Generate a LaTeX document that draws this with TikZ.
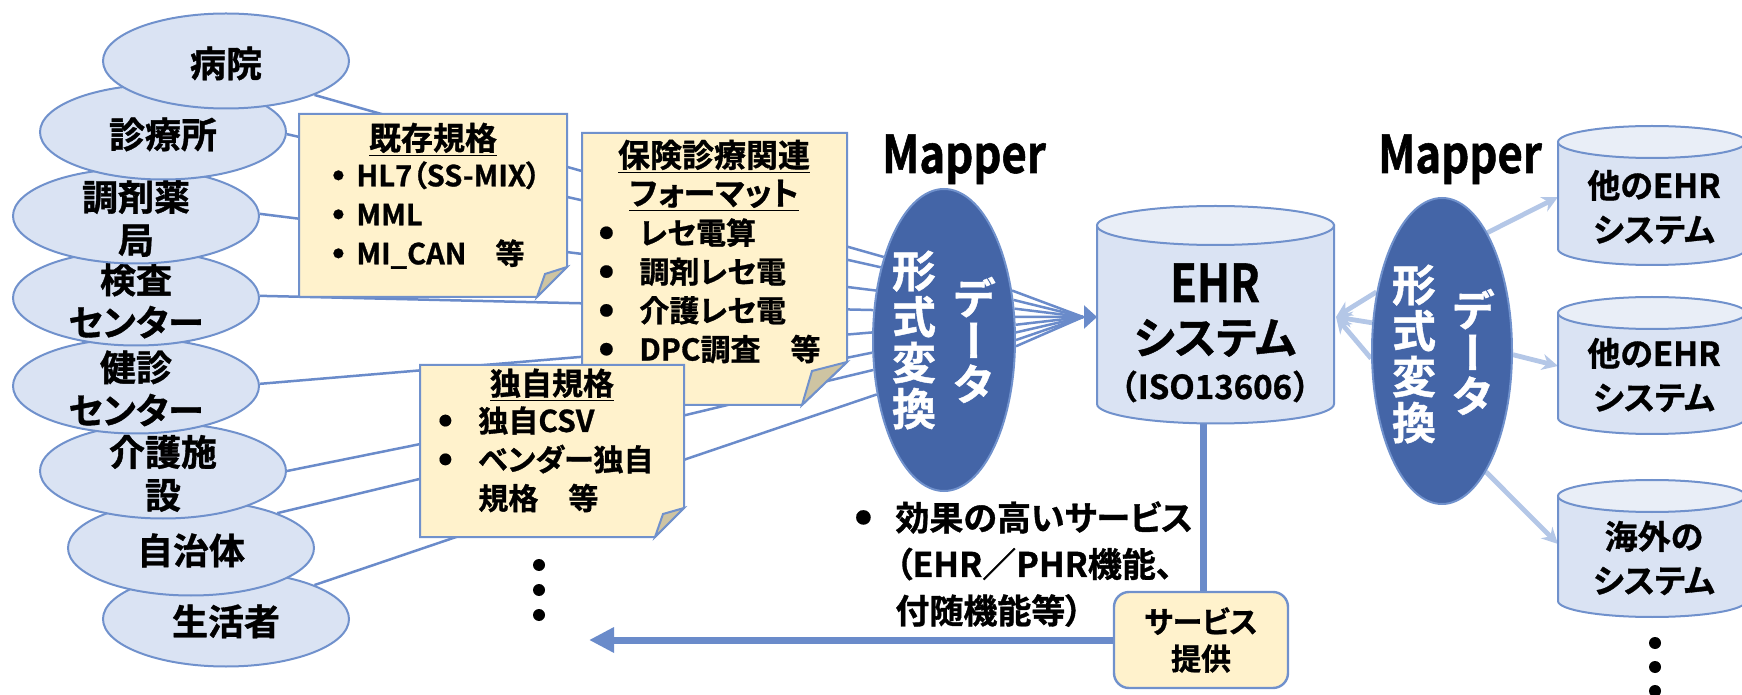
\documentclass[tikz,border=0pt]{standalone}
\usepackage{fontspec}
\usetikzlibrary{shapes.geometric,arrows.meta}
\setmainfont{Noto Sans CJK JP Bold}[RawFeature=+palt,FakeBold=1]
\newfontfamily\jp{Noto Sans CJK JP Bold}[RawFeature=+palt,FakeBold=1]
\newfontfamily\jpf{Noto Sans CJK JP Bold}[FakeBold=1]
\newfontfamily\jpv{Noto Sans CJK JP Bold}[RawFeature=+vert,FakeBold=1]
\newfontfamily\jpn{Noto Sans CJK JP Bold}[FakeStretch=0.84,FakeBold=1]
\definecolor{ellfill}{HTML}{DAE3F3}
\definecolor{bord}{HTML}{7091CC}
\definecolor{connc}{HTML}{6A8BCA}
\definecolor{notec}{HTML}{FFF2CC}
\definecolor{foldc}{HTML}{CEC4A2}
\definecolor{mapc}{HTML}{4465A7}
\definecolor{palec}{HTML}{B4C7E7}
\definecolor{cyltop}{HTML}{E9EEF7}
\pgfdeclarelayer{bg}
\pgfsetlayers{bg,main}
% #1 box width, #2 bullet font size, #3 raise
\newcommand\bul[3]{\makebox[#1][c]{\raisebox{#3}{\fontsize{#2}{#2}\selectfont ●}}}
\newcommand\mycyl[5]{%
  \filldraw[draw=bord, line width=1pt, fill=ellfill]
    ({#1-#2},#3) -- ({#1-#2},#4)
    arc[start angle=180, end angle=360, x radius=#2*0.5pt, y radius=#5*0.5pt]
    -- ({#1+#2},#3) -- cycle;
  \filldraw[draw=bord, line width=1pt, fill=cyltop]
    (#1,#3) ellipse[x radius=#2*0.5pt, y radius=#5*0.5pt];
}
\begin{document}
\begin{tikzpicture}[x=0.5pt,y=-0.5pt,
  ell/.style={ellipse, draw=bord, line width=1pt, fill=ellfill, minimum width=123pt, minimum height=47.5pt, inner sep=0pt},
  elbl/.style={font=\jp\fontsize{18}{21.5}\selectfont, align=center, inner sep=0pt, yshift=-1.2pt},
  connl/.style={draw=connc, line width=1.25pt},
  notebox/.style={fill=notec, draw=bord, line width=1pt},
  foldst/.style={fill=foldc, draw=bord, line width=1pt},
  mapper/.style={ellipse, fill=mapc, draw=bord, line width=1pt, inner sep=0pt},
  vtxt/.style={font=\jpv\fontsize{22}{23}\selectfont, text=white, align=center, inner sep=0pt},
  vtxtb/.style={font=\jpv\fontsize{22}{21.5}\selectfont, text=white, align=center, inner sep=0pt},
  head/.style={font=\jp\fontsize{16}{16}\selectfont, anchor=base, inner sep=0pt},
  items/.style={font=\jp\fontsize{15}{19.4}\selectfont, anchor=north west, align=left, inner sep=0pt},
  palearr/.style={draw=palec, line width=2.4pt, -{Stealth[length=8pt,width=8pt]}},
  thickl/.style={draw=connc, line width=3.5pt},
  ctxt/.style={font=\jp\fontsize{16.5}{22}\selectfont, align=center, inner sep=0pt},
  maplbl/.style={font=\jpn\fontsize{26}{26}\selectfont, anchor=base, inner sep=0pt}
]
\useasboundingbox (0,0) rectangle (1742,695);

% ---------------- source ellipses (lower ones first) ----------------
\node[ell, label={[elbl]center:生活者}] (e8) at (226,619) {};
\node[ell, label={[elbl]center:自治体}] (e7) at (191,548) {};
\node[ell, label={[elbl]center:{介護施\\設}}] (e6) at (163,471) {};
\node[ell, label={[elbl]center:{健診\\センター}}] (e5) at (136,386) {};
\node[ell, label={[elbl]center:{検査\\センター}}] (e4) at (136,298) {};
\node[ell, label={[elbl]center:{調剤薬\\局}}] (e3) at (136,216) {};
\node[ell, label={[elbl]center:診療所}] (e2) at (163,132) {};
\node[ell, label={[elbl]center:病院}] (e1) at (226,61) {};

% ---------------- note boxes ----------------
\filldraw[notebox] (299,114) -- (567,114) -- (567,267) -- (537,297) -- (299,297) -- cycle;
\filldraw[foldst] (567,267) -- (545,274) -- (537,297) -- cycle;
\node[head] (h1) at (433,150) {\underline{既存規格}};
\node[items, font=\jp\fontsize{14.5}{19.5}\selectfont] (i1) at (320,161) {\bul{18pt}{5.5}{3.4pt}HL7（SS-MIX）\\\bul{18pt}{5.5}{3.4pt}MML\\\bul{18pt}{5.5}{3.4pt}MI\_CAN　等};

\filldraw[notebox] (582,133) -- (847,133) -- (847,362) -- (802,405) -- (582,405) -- cycle;
\filldraw[foldst] (847,362) -- (812,371) -- (802,405) -- cycle;
\node[head] (h2a) at (714,167) {\underline{保険診療関連}};
\node[head] (h2b) at (714,205) {\underline{フォーマット}};
\node[items] (i2) at (573,218) {\bul{33pt}{7}{3pt}レセ電算\\\bul{33pt}{7}{3pt}調剤レセ電\\\bul{33pt}{7}{3pt}介護レセ電\\\bul{33pt}{7}{3pt}DPC調査　等};

\filldraw[notebox] (420,365) -- (684,365) -- (684,508) -- (655,537) -- (420,537) -- cycle;
\filldraw[foldst] (684,508) -- (663,514) -- (655,537) -- cycle;
\node[head, font=\jp\fontsize{15.5}{15.5}\selectfont] (h3) at (552,395) {\underline{独自規格}};
\node[items] (i3) at (412,406) {\bul{33pt}{6.5}{3.2pt}独自CSV\\\bul{33pt}{6.5}{3.2pt}ベンダー独自\\\hspace*{33pt}規格　等};

% ---------------- mappers ----------------
\node[maplbl] (ml1) at (964,173) {Mapper};
\node[maplbl] (ml2) at (1460,173) {Mapper};
\node[mapper, minimum width=71pt, minimum height=151pt] (m1) at (944,340) {};
\node[vtxt] (m1a) at (914,340) {形\\式\\変\\換};
\node[vtxtb] (m1b) at (974,340) {デ\\ー\\タ};
\node[mapper, minimum width=70pt, minimum height=153pt] (m2) at (1442,351) {};
\node[vtxt] (m2a) at (1414,354) {形\\式\\変\\換};
\node[vtxtb] (m2b) at (1473,352) {デ\\ー\\タ};

% ---------------- cylinders ----------------
\mycyl{1215.5}{118.5}{225.5}{404}{19.5}
\node[font=\jpn\fontsize{26}{26}\selectfont, anchor=base, inner sep=0pt] (ehr1) at (1215,302) {EHR};
\node[font=\jp\fontsize{22}{22}\selectfont, inner sep=0pt] (ehr2) at (1215,338) {システム};
\node[font=\jpf\fontsize{16.5}{16.5}\selectfont, anchor=base, inner sep=0pt] (ehr3) at (1215,399) {（ISO13606）};
\coordinate (ehrL) at (1097,317);
\coordinate (ehrR) at (1336,317);
\coordinate (ehrB) at (1203,423);
\coordinate (conv) at (1083,317);

\mycyl{1652}{94}{142}{249}{16}
\mycyl{1652}{94}{313}{418}{16}
\mycyl{1652}{94}{496}{601}{16}
\node[ctxt] (c1t) at (1654,207) {他のEHR\\システム};
\node[ctxt] (c2t) at (1654,375) {他のEHR\\システム};
\node[ctxt] (c3t) at (1654,558) {海外の\\システム};
\coordinate (c1L) at (1558,197);
\coordinate (c2L) at (1558,366);
\coordinate (c3L) at (1558,544);

% ---------------- service ----------------
\node[rounded corners=7.5pt, draw=bord, line width=1.2pt, fill=notec, minimum width=87pt, minimum height=48pt, align=center, inner sep=0pt, font=\jp\fontsize{15}{18.5}\selectfont] (svc) at (1201,640) {サービス\\提供};
\coordinate (svcend) at (589,640);
\node[anchor=north west, align=left, inner sep=0pt, font=\jp\fontsize{17}{23.25}\selectfont] (svctxt) at (831,501) {\bul{32pt}{8}{3.5pt}効果の高いサービス\\\hspace*{32pt}（EHR／PHR機能、\\\hspace*{32pt}付随機能等）};

% dots
\fill (539,565) circle[radius=3pt];
\fill (539,590) circle[radius=3pt];
\fill (539,615) circle[radius=3pt];
\fill (1655,643) circle[radius=3pt];
\fill (1655,667) circle[radius=3pt];
\fill (1655,691) circle[radius=3pt];

% ---------------- connectors (behind) ----------------
\begin{pgfonlayer}{bg}
\draw[connl] (e1.-21) -- (m1.126);
\draw[connl] (e2.-1) -- (m1.131);
\draw[connl] (e3.1) -- (m1.144);
\draw[connl] (e4.1) -- (m1.157);
\draw[connl] (e5.1) -- (m1.174);
\draw[connl] (e6.0) -- (m1.190);
\draw[connl] (e7.22) -- (m1.203);
\draw[connl] (e8.21) -- (m1.219);
\foreach \a in {36,30,24,18,12,6,0,-5} \draw[connl] (m1.\a) -- (conv);
\draw[connl, -{Triangle[length=6.5pt,width=11.5pt]}] (conv) -- (ehrL);
\draw[palearr] (m2.138) -- (ehrR);
\draw[palearr] (m2.158) -- (ehrR);
\draw[palearr] (m2.186) -- (ehrR);
\draw[palearr] (m2.69) -- (c1L);
\draw[palearr] (m2.-3) -- (c2L);
\draw[palearr] (m2.-70) -- (c3L);
\draw[thickl] (ehrB) -- (ehrB |- svc.north);
\draw[thickl, -{Triangle[length=12.5pt,width=12pt]}] (svc.west) -- (svcend);
\end{pgfonlayer}
\end{tikzpicture}
\end{document}
